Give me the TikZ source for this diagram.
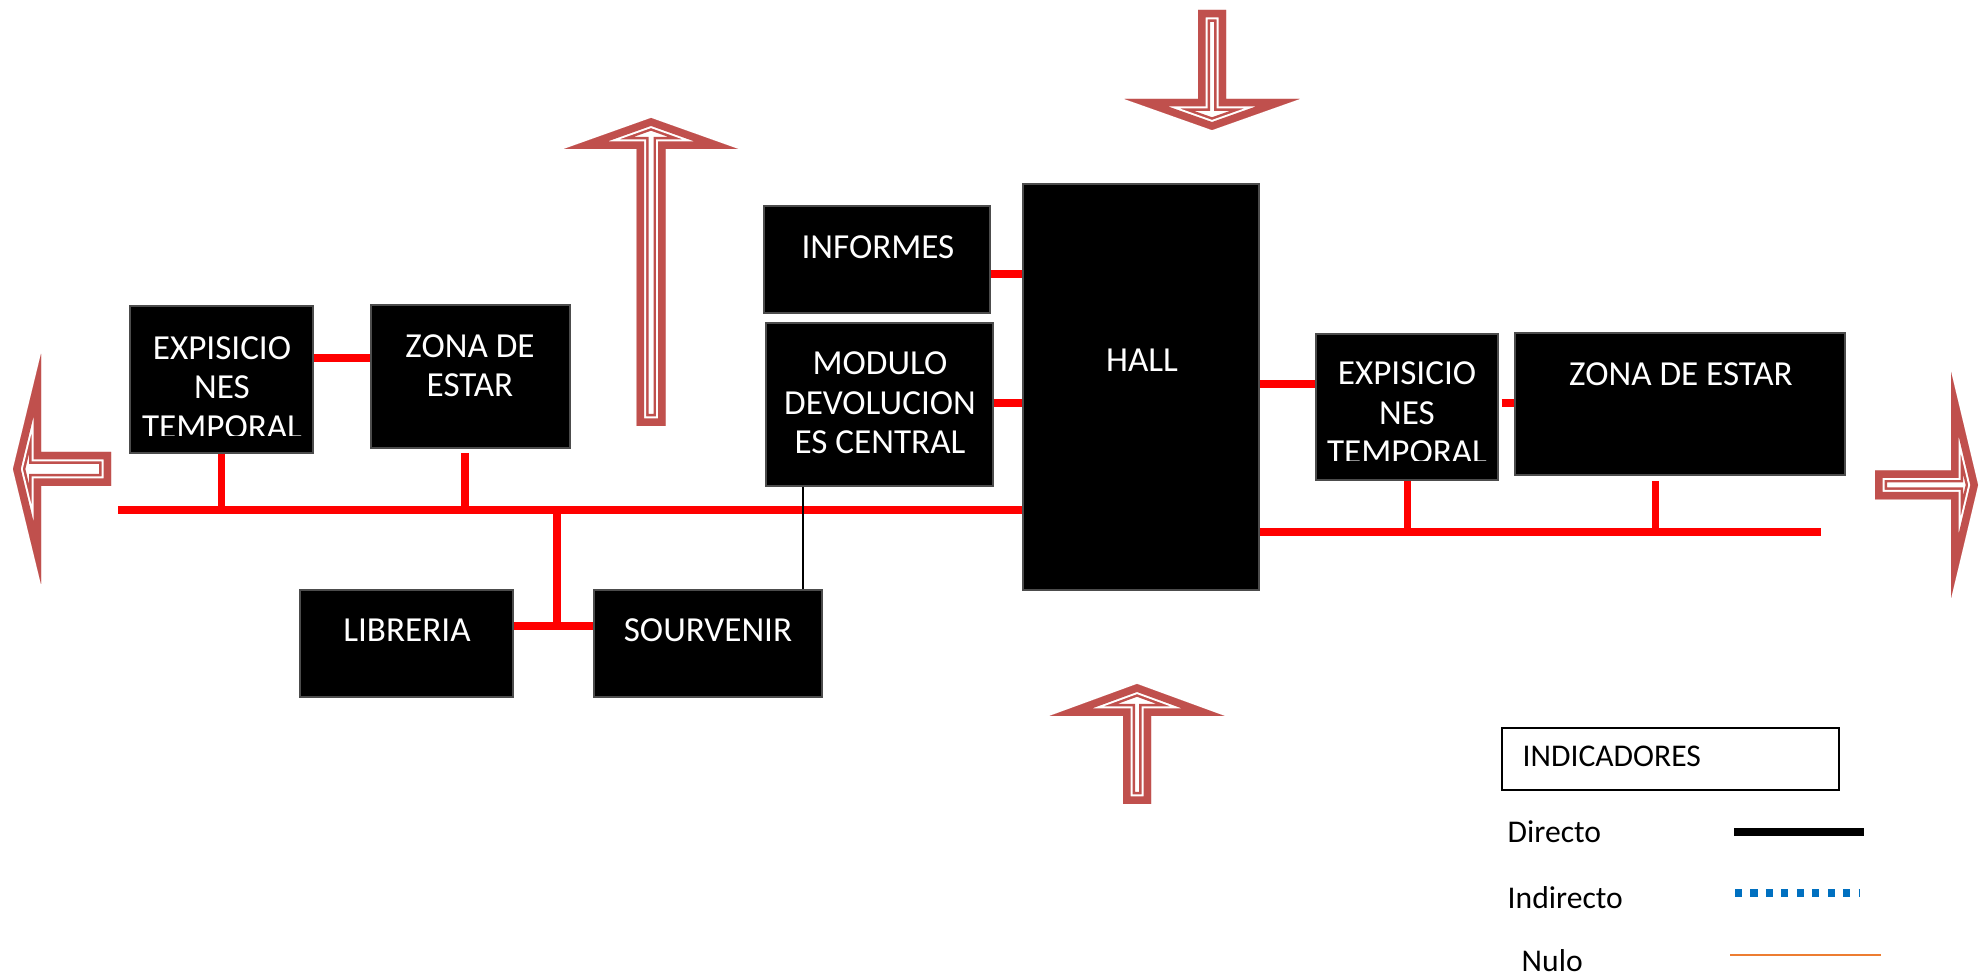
\documentclass[tikz,border=0pt]{standalone}
\usepackage{fontspec}
\setmainfont{Carlito}
\usetikzlibrary{calc}
\definecolor{rust}{RGB}{192,80,77}
\definecolor{signal}{RGB}{255,0,0}
\definecolor{cobalt}{RGB}{0,112,192}
\definecolor{tangerine}{RGB}{237,125,49}
\tikzset{
  sala/.style={fill=black,draw=black!70,thin,inner sep=0pt},
  rotulo/.style={text=white,font=\fontsize{10}{11.2}\selectfont,align=center,inner sep=0pt},
  via/.style={draw=signal,line width=2pt},
  directo/.style={draw=black,line width=0.8pt},
  leyenda/.style={font=\fontsize{9}{11}\selectfont,anchor=west,inner sep=0pt},
  % flecha: head length, head half width, shaft half width, shaft length
  pics/flecha/.style n args={4}{code={
    \def\fpath{(0,0) -- (-#2,-#1) -- (-#3,-#1) -- (-#3,-#1-#4) -- (#3,-#1-#4) -- (#3,-#1) -- (#2,-#1) -- cycle}
    \begin{scope}
      \clip \fpath;
      \fill[white] \fpath;
      \draw[rust,line width=0.24cm,line join=miter] \fpath;
      \draw[white,line width=0.19cm,line join=miter] \fpath;
      \draw[rust,line width=0.15cm,line join=miter] \fpath;
    \end{scope}
  }},
}

\begin{document}
\begin{tikzpicture}
    \useasboundingbox (0,0) rectangle (19.86,-9.77);
    % salas
    \node[sala,minimum width=1.83cm,minimum height=1.47cm] (exp1) at (2.215,-3.795) {};
    \node[sala,minimum width=1.99cm,minimum height=1.43cm] (zona1) at (4.705,-3.765) {};
    \node[sala,minimum width=2.26cm,minimum height=1.07cm] (informes) at (8.77,-2.595) {};
    \node[sala,minimum width=2.27cm,minimum height=1.63cm] (modulo) at (8.795,-4.045) {};
    \node[sala,minimum width=2.36cm,minimum height=4.06cm] (hall) at (11.41,-3.87) {};
    \node[sala,minimum width=1.82cm,minimum height=1.46cm] (exp2) at (14.07,-4.07) {};
    \node[sala,minimum width=3.30cm,minimum height=1.42cm] (zona2) at (16.80,-4.04) {};
    \node[sala,minimum width=2.13cm,minimum height=1.07cm] (libreria) at (4.065,-6.435) {};
    \node[sala,minimum width=2.28cm,minimum height=1.07cm] (souvenir) at (7.08,-6.435) {};
    % rotulos
    \begin{scope}
      \clip (1.30,-3.06) rectangle (3.13,-4.36);
      \node[rotulo] (exp1t) at (2.22,-3.876) {EXPISICIO\\NES\\TEMPORAL};
    \end{scope}
    \node[rotulo] (zona1t) at (4.70,-3.66) {ZONA DE\\ESTAR};
    \node[rotulo] (informest) at (8.78,-2.47) {INFORMES};
    \node[rotulo] (modulot) at (8.80,-4.03) {MODULO\\DEVOLUCION\\ES CENTRAL};
    \node[rotulo] (hallt) at (11.42,-3.60) {HALL};
    \begin{scope}
      \clip (13.16,-3.34) rectangle (14.98,-4.61);
      \node[rotulo] (exp2t) at (14.07,-4.13) {EXPISICIO\\NES\\TEMPORAL};
    \end{scope}
    \node[rotulo] (zona2t) at (16.81,-3.74) {ZONA DE ESTAR};
    \node[rotulo] (libreriat) at (4.07,-6.30) {LIBRERIA};
    \node[rotulo] (souvenirt) at (7.08,-6.30) {SOURVENIR};
    % conexiones
    \coordinate (busW) at (1.18,-5.10);
    \coordinate (busE) at (18.21,-5.32);
    \coordinate (jLS) at (5.57,-6.26);
    \coordinate (dz1) at (4.65,-4.53);
    \coordinate (dz2) at (16.55,-4.81);
    \coordinate (xM) at (8.03,0);
    \draw[via] (busW) -- (busW -| hall.west);
    \draw[via] (exp1.south) -- (exp1.south |- busW);
    \draw[via] (dz1) -- (dz1 |- busW);
    \draw[via] (exp1.east |- 0,-3.58) -- (zona1.west |- 0,-3.58);
    \draw[via] (jLS |- busW) -- (jLS);
    \draw[via] (libreria.east |- jLS) -- (souvenir.west |- jLS);
    \draw[directo] (modulo.south -| xM) -- (souvenir.north -| xM);
    \draw[via] (informes.east |- 0,-2.74) -- (hall.west |- 0,-2.74);
    \draw[via] (modulo.east |- 0,-4.03) -- (hall.west |- 0,-4.03);
    \draw[via] (hall.east |- 0,-3.84) -- (exp2.west |- 0,-3.84);
    \draw[via] ([xshift=0.03cm]exp2.east |- 0,-4.03) -- (zona2.west |- 0,-4.03);
    \draw[via] (busE -| hall.east) -- (busE);
    \draw[via] (exp2.south) -- (exp2.south |- busE);
    \draw[via] (dz2) -- (dz2 |- busE);
    % flechas
    \pic at (6.51,-1.18) {flecha={0.31}{0.87}{0.145}{2.77}};
    \pic[rotate=180] at (12.12,-1.30) {flecha={0.31}{0.875}{0.14}{0.89}};
    \pic at (11.37,-6.84) {flecha={0.32}{0.875}{0.14}{0.88}};
    \pic[rotate=90] at (0.13,-4.69) {flecha={0.28}{1.15}{0.17}{0.70}};
    \pic[rotate=-90] at (19.78,-4.85) {flecha={0.27}{1.13}{0.145}{0.76}};
    % indicadores
    \node[draw=black,thick,minimum width=3.37cm,minimum height=0.62cm,inner sep=0pt] (indic) at (16.705,-7.59) {};
    \node[leyenda] (indict) at (15.22,-7.56) {INDICADORES};
    \node[leyenda] (ldir) at (15.07,-8.32) {Directo};
    \node[leyenda] (lind) at (15.07,-8.98) {Indirecto};
    \node[leyenda] (lnul) at (15.21,-9.61) {Nulo};
    \draw[black,line width=2pt] (17.34,-8.32) -- (18.64,-8.32);
    \draw[cobalt,line width=2pt,dash pattern=on 2pt off 2.4pt] (17.35,-8.93) -- (18.59,-8.93);
    \draw[tangerine,line width=0.8pt] (17.30,-9.55) -- (18.81,-9.55);
\end{tikzpicture}
\end{document}
